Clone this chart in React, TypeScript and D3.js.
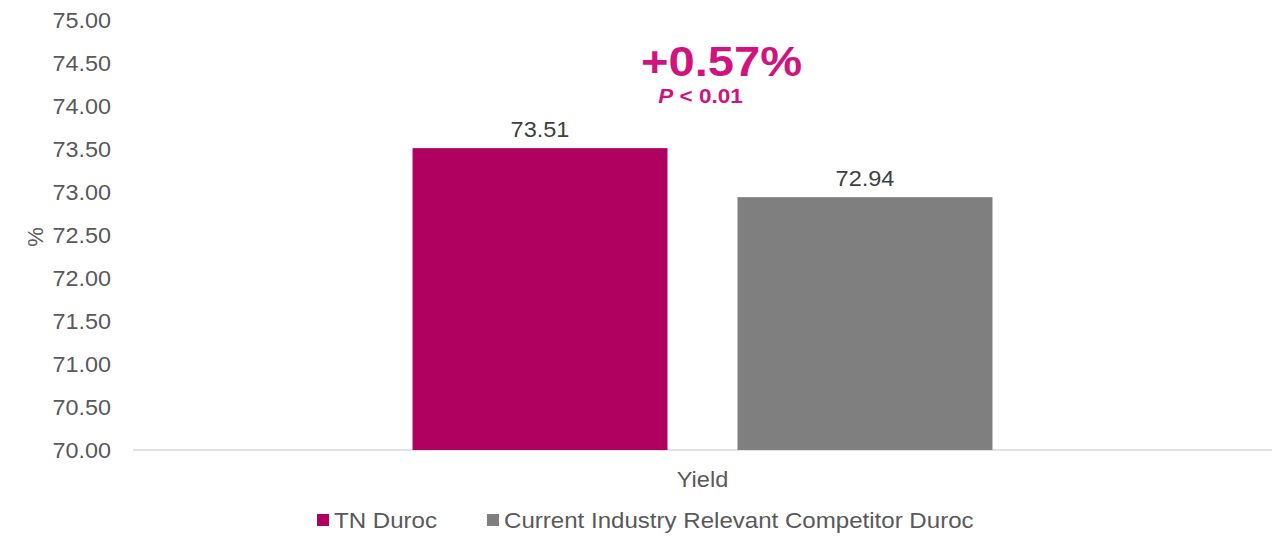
import { useMemo } from 'react'
import * as d3 from 'd3'

const categories = ['Yield']
const seriesNames = ['TN Duroc', 'Current Industry Relevant Competitor Duroc']
const seriesValues = [73.51, 72.94]
const seriesColors = ['#b00060', '#7f7f7f']
const yTicks = [70, 70.5, 71, 71.5, 72, 72.5, 73, 73.5, 74, 74.5, 75]
const yDomain: [number, number] = [70, 75]
const pValueText = 'P < 0.01'

const width = 1288
const height = 547
const margin = { top: 20, right: 16, bottom: 97, left: 133 }
const font = '"Liberation Sans", Arial, sans-serif'

// the source picture is a little wider than tall, so text gets a small x-stretch
const stretch = 1.07

export default function App() {
  const innerW = width - margin.left - margin.right
  const innerH = height - margin.top - margin.bottom

  const x0 = useMemo(
    () => d3.scaleBand<string>().domain(categories).range([0, innerW]).paddingInner(0).paddingOuter(0.482),
    [innerW]
  )
  const x1 = useMemo(
    () => d3.scaleBand<string>().domain(seriesNames).range([0, x0.bandwidth()]).paddingInner(0.2154).paddingOuter(0),
    [x0]
  )
  const y = useMemo(() => d3.scaleLinear().domain(yDomain).range([innerH, 0]), [innerH])

  const fmt = d3.format('.2f')
  const diff = seriesValues[0] - seriesValues[1]
  const groupX = x0(categories[0]) || 0
  const groupCenter = groupX + x0.bandwidth() / 2

  return (
    <svg
      width={width}
      height={height}
      style={{ position: 'absolute', left: 0, top: 0, background: '#fff', fontFamily: font }}
    >
      <g transform={`translate(${margin.left},${margin.top})`}>
        {/* y tick labels */}
        {yTicks.map(t => (
          <g key={t} transform={`translate(-22,${y(t)}) scale(${stretch + 0.02},1)`}>
            <text dy="0.36em" textAnchor="end" fontSize={21.5} fill="#595959">
              {fmt(t)}
            </text>
          </g>
        ))}

        {/* baseline */}
        <line x1={0} x2={innerW} y1={innerH} y2={innerH} stroke="#d9d9d9" strokeWidth={1.5} />

        {/* bars + value labels */}
        {seriesNames.map((s, i) => {
          const bx = groupX + (x1(s) || 0)
          const by = y(seriesValues[i])
          return (
            <g key={s}>
              <rect x={bx} y={by} width={x1.bandwidth()} height={innerH - by} fill={seriesColors[i]} />
              <g transform={`translate(${bx + x1.bandwidth() / 2},${by - 11}) scale(${stretch},1)`}>
                <text textAnchor="middle" fontSize={22} fill="#404040">
                  {fmt(seriesValues[i])}
                </text>
              </g>
            </g>
          )
        })}

        {/* difference annotation */}
        <text
          x={groupCenter + 19}
          y={56}
          textAnchor="middle"
          fontSize={43}
          fontWeight="bold"
          fill="#d0137e"
          textLength={161}
          lengthAdjust="spacingAndGlyphs"
        >
          {`+${fmt(diff)}%`}
        </text>
        <g transform={`translate(${groupCenter - 2},83) scale(${stretch},1)`}>
          <text textAnchor="middle" fontSize={21} fontWeight="bold" fill="#d0137e">
            <tspan fontStyle="italic">{pValueText.split(' ')[0]}</tspan>
            {' ' + pValueText.split(' ').slice(1).join(' ')}
          </text>
        </g>

        {/* category label */}
        {categories.map(c => (
          <g
            key={c}
            transform={`translate(${(x0(c) || 0) + x0.bandwidth() / 2},${innerH + 37}) scale(${stretch},1)`}
          >
            <text textAnchor="middle" fontSize={22} fill="#595959">
              {c}
            </text>
          </g>
        ))}

        {/* y axis title */}
        <text
          transform={`translate(${35 - margin.left},${237 - margin.top}) rotate(-90)`}
          textAnchor="middle"
          dy="0.35em"
          fontSize={22}
          fill="#595959"
        >
          %
        </text>
      </g>

      {/* legend */}
      <g transform="translate(317,520)">
        {seriesNames.map((s, i) => {
          const lx = i === 0 ? 0 : 170
          return (
            <g key={s} transform={`translate(${lx},0)`}>
              <rect x={0} y={-6} width={12} height={12} fill={seriesColors[i]} />
              <g transform={`translate(17,0) scale(${stretch},1)`}>
                <text dy="0.36em" fontSize={22.5} fill="#595959">
                  {s}
                </text>
              </g>
            </g>
          )
        })}
      </g>
    </svg>
  )
}
